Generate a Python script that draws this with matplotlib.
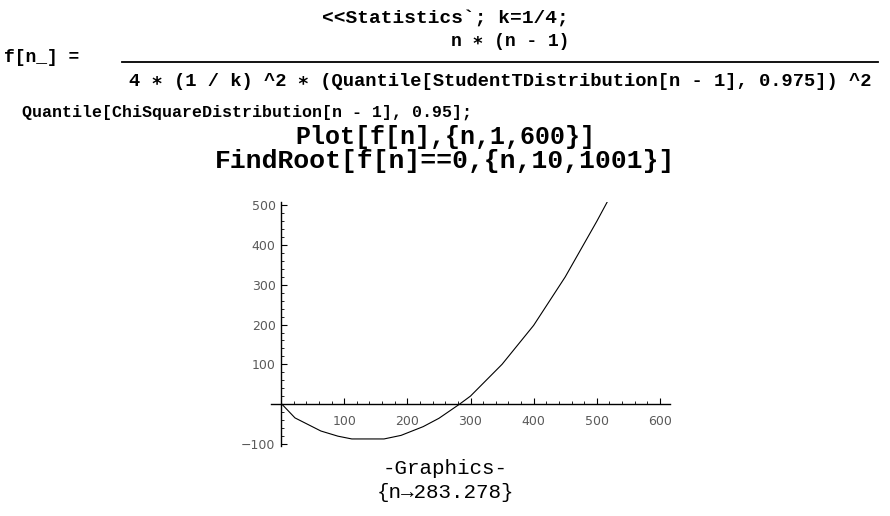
import matplotlib.pyplot as plt
from matplotlib.lines import Line2D
from matplotlib.ticker import MultipleLocator

# values (sample points of the Mathematica curve)
n_vals = [1, 22, 63, 90, 112, 163, 190, 225, 250, 283, 300, 350, 400, 450, 500, 520]
f_vals = [0, -35, -68, -81, -88, -88, -79, -57, -36, 0, 20, 100, 198, 320, 460, 519]

x_ticks = [100, 200, 300, 400, 500, 600]
y_ticks = [-100, 100, 200, 300, 400, 500]

W, H = 890, 516
fig = plt.figure(figsize=(W / 100, H / 100), dpi=100)

mono = ['Liberation Mono', 'DejaVu Sans Mono']


def put(x, y, s, size=14, **kw):
    # place text by pixel position (from top-left)
    return fig.text(x / W, 1 - y / H, s, family=mono, fontsize=size, va='center', **kw)


put(445, 18, "<<Statistics`; k=1/4;", ha='center', weight='bold')

# the 2D StandardForm input
put(510, 41, "n \u2217 (n - 1)", 13, ha='center', weight='bold')
put(4, 58, "f[n_] =", 13, ha='left', weight='bold')
fig.add_artist(Line2D([122 / W, 878 / W], [1 - 62 / H, 1 - 62 / H], color='black', lw=1.3))
put(500, 81, "4 \u2217 (1 / k) ^2 \u2217 (Quantile[StudentTDistribution[n - 1], 0.975]) ^2",
    13.5, ha='center', weight='bold')
put(22, 112, "Quantile[ChiSquareDistribution[n - 1], 0.95];", 12, ha='left',
    weight='bold')

put(445, 137, "Plot[f[n],{n,1,600}]", 18, ha='center', weight='bold')
put(445, 161, "FindRoot[f[n]==0,{n,10,1001}]", 19, ha='center', weight='bold')
put(445, 468, "-Graphics-", 15, ha='center')
put(445, 492, "{n\u2192283.278}", 15, ha='center')

# plot area: x from -16 to 616, y from -105 to 510
ax = fig.add_axes([271 / W, (H - 445.7) / H, 399 / W, 244.2 / H])
ax.plot(n_vals, f_vals, color='black', lw=0.8)
ax.set_xlim(-16, 616)
ax.set_ylim(-105, 510)

for side in ['top', 'right']:
    ax.spines[side].set_visible(False)
ax.spines['left'].set_position(('data', 0))
ax.spines['bottom'].set_position(('data', 0))
ax.spines['left'].set_linewidth(1.0)
ax.spines['bottom'].set_linewidth(1.0)

ax.set_xticks(x_ticks)
ax.set_yticks(y_ticks)
ax.set_xticklabels([str(v) for v in x_ticks])
ax.set_yticklabels([str(v).replace('-', '\u2212') for v in y_ticks])
ax.xaxis.set_minor_locator(MultipleLocator(20))
ax.yaxis.set_minor_locator(MultipleLocator(20))
ax.tick_params(which='major', direction='in', length=4, width=0.8, labelsize=9,
               labelcolor='#5a5a5a', pad=4)
ax.tick_params(which='minor', direction='in', length=2, width=0.6)
ax.tick_params(axis='x', which='major', pad=8)
ax.patch.set_alpha(0)

fig.savefig('out.png', dpi=100)
